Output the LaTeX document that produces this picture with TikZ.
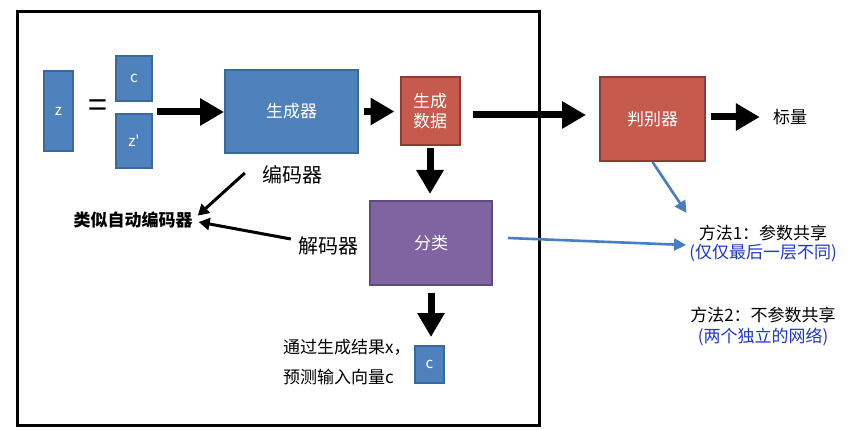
\documentclass[tikz,border=0pt]{standalone}
\usepackage{fontspec}
\setmainfont{Noto Sans CJK SC}
\usetikzlibrary{arrows.meta}
\definecolor{bfill}{HTML}{4F81BD}
\definecolor{bline}{HTML}{3A6A9C}
\definecolor{rfill}{HTML}{C65A4C}
\definecolor{rline}{HTML}{8E3B34}
\definecolor{pfill}{HTML}{8064A2}
\definecolor{pline}{HTML}{5D4A7E}
\definecolor{ablue}{HTML}{4A7EC0}
\definecolor{tblue}{HTML}{1F35D0}
\begin{document}
\begin{tikzpicture}[x=1pt,y=-1pt,
  box/.style={draw, line width=2pt, inner sep=0pt, text=white, align=center,
    font=\fontsize{17}{20}\selectfont},
  bbox/.style={box, draw=bline, fill=bfill},
  rbox/.style={box, draw=rline, fill=rfill},
  pbox/.style={box, draw=pline, fill=pfill},
  small/.style={bbox, font=\fontsize{15}{16}\selectfont},
  lbl/.style={inner sep=0pt, font=\fontsize{17}{20}\selectfont, align=center},
  biglbl/.style={lbl, font=\fontsize{20}{22}\selectfont},
  bigarrow/.style={line width=7pt, -{Triangle[length=24pt,width=26pt]}},
  thinarrow/.style={line width=3pt, -{Triangle[length=11pt,width=12pt]}},
  bluearrow/.style={draw=ablue, line width=2.6pt, -{Triangle[length=12pt,width=12pt]}},
]
\useasboundingbox (0,0) rectangle (861,430);
\fill[white] (0,0) rectangle (861,430);
% frame
\draw[line width=3pt] (17,12) rectangle (539,425);

% nodes
\node[small, minimum width=29pt, minimum height=80pt] (z) at (58.5,111) {z};
\node[lbl, font=\fontsize{34}{34}\selectfont] (eq) at (98,109) {=};
\node[small, minimum width=36pt, minimum height=45pt] (c) at (134,78.5) {c};
\node[small, minimum width=36pt, minimum height=54pt] (zp) at (134,141) {z\textquotesingle};
\node[bbox, minimum width=133pt, minimum height=83pt] (gen) at (291.5,111.5) {生成器};
\node[rbox, minimum width=59pt, minimum height=68pt] (data) at (430,111) {生成\\数据};
\node[rbox, minimum width=105pt, minimum height=84pt] (disc) at (652.5,119) {判别器};
\node[pbox, minimum width=122pt, minimum height=84pt] (cls) at (431,243) {分类};
\node[small, minimum width=29pt, minimum height=37pt] (cout) at (429.5,364.5) {c};

\node[lbl] (scalar) at (790,117) {标量};
\node[biglbl] (enc) at (292,175) {编码器};
\node[lbl, font=\fontsize{17}{20}\selectfont\bfseries] (ae) at (133,220) {类似自动编码器};
\node[biglbl] (dec) at (328,246) {解码器};
\node[lbl, anchor=west] (t1) at (283,347) {通过生成结果x，};
\node[lbl, anchor=west] (t2) at (283,377) {预测输入向量c};
\node[lbl] (m1) at (763,233) {方法1：参数共享};
\node[lbl, text=tblue] (m1b) at (763,253) {(仅仅最后一层不同)};
\node[lbl] (m2) at (763,315) {方法2：不参数共享};
\node[lbl, text=tblue] (m2b) at (763,337) {(两个独立的网络)};

\coordinate (a1s) at (157,112);

% arrows
\draw[bigarrow] (a1s) -- (gen.west |- a1s);
\draw[bigarrow] ([xshift=5pt]gen.east) -- ([xshift=-5pt]data.west |- gen.east);
\draw[bigarrow] ([xshift=12pt,yshift=-4pt]data.east) -- ([xshift=-13pt,yshift=4pt]disc.west);
\draw[bigarrow] ([xshift=5pt,yshift=2pt]disc.east) -- ([xshift=-13pt]scalar.west);
\draw[bigarrow] ([yshift=-2pt]data.south) -- ([yshift=6pt]data.south |- cls.north);
\draw[bigarrow] ([yshift=-7pt]cls.south) -- ([yshift=8pt]cls.south |- cout.north);

\draw[thinarrow] ([xshift=-17pt,yshift=2pt]enc.west) -- ([xshift=5pt,yshift=-4pt]ae.north east);
\draw[thinarrow] ([xshift=-7pt,yshift=7pt]dec.west) -- ([xshift=6pt,yshift=-2pt]ae.east);

\draw[bluearrow] (disc.south) -- ([xshift=-12pt,yshift=20pt]m1.west);
\draw[bluearrow] ([xshift=15pt,yshift=5pt]cls.east) -- ([xshift=-3pt,yshift=8pt]m1b.west);
\end{tikzpicture}
\end{document}
